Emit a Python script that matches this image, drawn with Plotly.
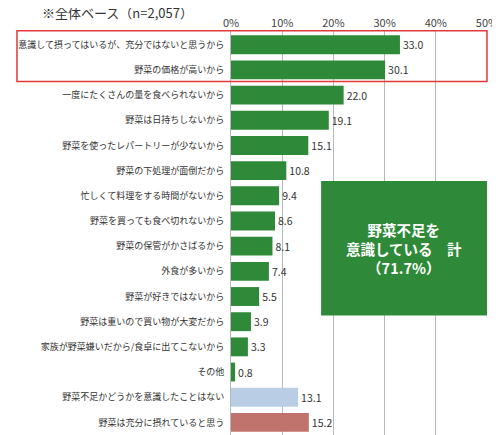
import plotly.graph_objects as go

categories = [
    "意識して摂ってはいるが、充分ではないと思うから",
    "野菜の価格が高いから",
    "一度にたくさんの量を食べられないから",
    "野菜は日持ちしないから",
    "野菜を使ったレパートリーが少ないから",
    "野菜の下処理が面倒だから",
    "忙しくて料理をする時間がないから",
    "野菜を買っても食べ切れないから",
    "野菜の保管がかさばるから",
    "外食が多いから",
    "野菜が好きではないから",
    "野菜は重いので買い物が大変だから",
    "家族が野菜嫌いだから/食卓に出てこないから",
    "その他",
    "野菜不足かどうかを意識したことはない",
    "野菜は充分に摂れていると思う",
]
values = [33.0, 30.1, 22.0, 19.1, 15.1, 10.8, 9.4, 8.6, 8.1, 7.4, 5.5, 3.9, 3.3, 0.8, 13.1, 15.2]
groups = ["aware"] * 14 + ["never", "enough"]
group_colors = {"aware": "#2e8a38", "never": "#b9cde5", "enough": "#c0726c"}
tick_vals = [0, 10, 20, 30, 40, 50]
tick_text = ["0%", "10%", "20%", "30%", "40%", "50%"]
title_text = "※全体ベース（n=2,057）"
box_text = "野菜不足を<br>意識している　計<br>（71.7%）"

font = "Noto Sans CJK JP"

fig = go.Figure(go.Bar(
    x=values, y=categories, orientation="h",
    marker=dict(color=[group_colors[g] for g in groups], line=dict(width=0)),
    width=0.75,
    text=values, texttemplate="%{x:.1f}", textposition="outside",
    textfont=dict(family=font, size=10.5, color="#333333"),
    cliponaxis=False,
))

fig.update_layout(
    width=492, height=427,
    margin=dict(l=223, r=13, t=22, b=0, autoexpand=False),
    paper_bgcolor="white", plot_bgcolor="white",
    showlegend=False,
    font=dict(family=font, size=11, color="#333333"),
    xaxis=dict(range=[0, 50], side="top", tickvals=tick_vals, ticktext=tick_text,
               showgrid=True, gridcolor="#b8b8b8", gridwidth=1, zeroline=False,
               showline=False, ticks="", tickfont=dict(size=11, color="#444444"),
               automargin=False, fixedrange=True),
    yaxis=dict(autorange="reversed", ticks="", showgrid=False, showline=True,
               linecolor="#b8b8b8", tickfont=dict(size=9, color="#333333"),
               automargin=False, ticklabelstandoff=4),
    shapes=[
        dict(type="rect", xref="paper", yref="y", x0=-0.836, x1=1.0, y0=-0.555, y1=1.46,
             line=dict(color="#e03a3a", width=1.5), fillcolor="rgba(0,0,0,0)"),
        dict(type="rect", xref="x", yref="y", x0=17.6, x1=50, y0=5.41, y1=10.75,
             line=dict(width=0), fillcolor="#2e8a38", layer="above"),
    ],
    annotations=[
        dict(text=title_text, xref="paper", yref="paper", x=-0.746, y=1.042,
             xanchor="left", yanchor="middle", showarrow=False,
             font=dict(size=13, color="#333333")),
        dict(text=box_text, xref="x", yref="y", x=33.8, y=8.08, showarrow=False,
             font=dict(size=14.5, color="white", family=font, weight="bold"),
             align="center"),
    ],
)

fig.write_html("out.html")
